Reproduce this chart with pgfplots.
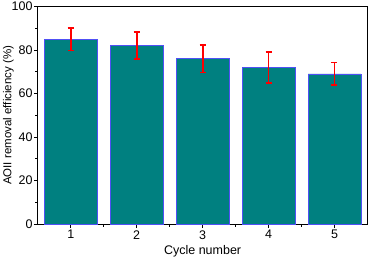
\documentclass[border={3pt 0pt 2pt 1pt}]{standalone}
\usepackage{pgfplots}
\pgfplotsset{compat=1.18}
\usepackage{fontspec}
\setmainfont{Liberation Sans}
\definecolor{barteal}{RGB}{0,128,128}
\definecolor{baredge}{RGB}{80,80,245}
\begin{document}
\begin{tikzpicture}
\begin{axis}[
  scale only axis,
  width=330pt, height=218pt,
  xmin=0.5, xmax=5.5, ymin=0, ymax=100,
  xtick={1,2,3,4,5},
  minor xtick={1.5,2.5,3.5,4.5},
  ytick={0,20,40,60,80,100},
  minor ytick={10,30,50,70,90},
  tick align=outside, tick pos=left,
  major tick length=4pt, minor tick length=2.5pt,
  axis line style={line width=1.1pt},
  every tick/.style={black, line width=0.9pt},
  /pgf/number format/assume math mode=true,
  tick label style={font=\fontsize{12.5}{14}\selectfont},
  yticklabel style={inner sep=1pt},
  xticklabel style={inner sep=2pt},
  xlabel={Cycle number},
  ylabel={AOII removal efficiency (\%)},
  xlabel style={font=\fontsize{12.5}{14}\selectfont, at={([yshift=-21pt]axis description cs:0.5,0)}, anchor=north, inner sep=0pt},
  ylabel style={font=\fontsize{11.5}{13}\selectfont, at={([xshift=-35pt]axis description cs:0,0.5)}, anchor=north, inner sep=0pt},
]
\addplot[ybar, bar width=0.8, fill=barteal, draw=baredge, line width=0.6pt]
  coordinates {(1,85) (2,82) (3,76) (4,72) (5,69)};
\addplot[draw=none, mark=none,
  error bars/.cd, y dir=both, y explicit,
  error bar style={draw=red, line width=1.9pt},
  error mark options={draw=red, line width=1.6pt, rotate=90, mark size=3pt}]
  coordinates {
  (1,85) +- (0,5.2)
  (2,82) +- (0,6.2)
  (3,76) +- (0,6.4)
  (4,72) +- (0,7.2)
  (5,69) +- (0,5.2)
};
\end{axis}
\end{tikzpicture}
\end{document}
